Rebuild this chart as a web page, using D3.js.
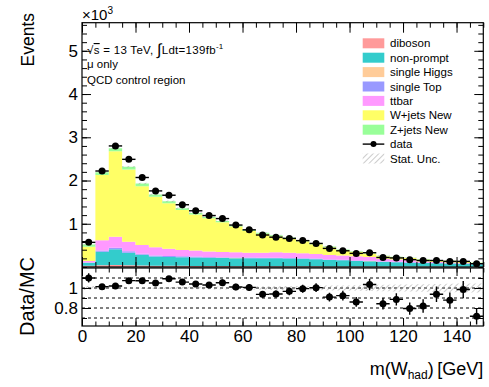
<!DOCTYPE html>
<html>
<head>
<meta charset="utf-8">
<script src="https://cdn.jsdelivr.net/npm/d3@7"></script>
<style>
  html, body { margin: 0; padding: 0; background: #fff; }
  svg { display: block; font-family: "Liberation Sans", Arial, Helvetica, sans-serif; }
</style>
</head>
<body>
<svg id="chart" width="489" height="387"></svg>
<script>
// m(W_had) histogram: 5 GeV bins from 0 to 150 GeV. Yields in units of 10^3 events.
const binEdges = [0,5,10,15,20,25,30,35,40,45,50,55,60,65,70,75,80,85,90,95,100,105,110,115,120,125,130,135,140,145,150];

const dataEvents = [0.57,2.22,2.80,2.49,2.07,1.76,1.66,1.44,1.30,1.19,1.12,0.97,0.86,0.74,0.69,
                    0.66,0.61,0.545,0.43,0.375,0.315,0.33,0.22,0.21,0.17,0.15,0.15,0.13,0.13,0.076];

const diboson    = [0.03,0.04,0.045,0.04,0.035,0.03,0.03,0.028,0.026,0.024,0.022,0.02,0.02,0.02,0.018,
                    0.017,0.016,0.015,0.014,0.013,0.012,0.012,0.011,0.01,0.01,0.009,0.009,0.008,0.008,0.007];
const nonPrompt  = [0.07,0.31,0.365,0.29,0.245,0.21,0.20,0.197,0.194,0.186,0.188,0.185,0.18,0.18,0.182,
                    0.178,0.174,0.165,0.146,0.142,0.128,0.123,0.109,0.10,0.09,0.081,0.076,0.072,0.067,0.058];
const singleHiggs= [0.001,0.002,0.002,0.002,0.002,0.002,0.002,0.002,0.002,0.002,0.002,0.002,0.002,0.002,0.002,
                    0.002,0.002,0.002,0.002,0.002,0.001,0.001,0.001,0.001,0.001,0.001,0.001,0.001,0.001,0.001];
const singleTop  = [0.005,0.03,0.035,0.03,0.025,0.022,0.02,0.02,0.018,0.017,0.016,0.015,0.015,0.014,0.014,
                    0.013,0.012,0.012,0.011,0.01,0.01,0.009,0.008,0.008,0.007,0.007,0.006,0.006,0.005,0.005];
const ttbar      = [0.034,0.238,0.253,0.223,0.203,0.191,0.168,0.148,0.14,0.131,0.117,0.118,0.113,0.114,0.124,
                    0.12,0.116,0.106,0.107,0.098,0.099,0.085,0.061,0.056,0.047,0.032,0.023,0.018,0.014,0.009];
const wJets      = [0.328,1.51,1.975,1.67,1.36,1.171,1.055,0.925,0.835,0.765,0.689,0.595,0.50,0.44,0.374,
                    0.333,0.276,0.227,0.178,0.128,0.104,0.078,0.061,0.053,0.051,0.045,0.038,0.037,0.031,0.021];
const zJets      = [0.05,0.06,0.07,0.065,0.06,0.05,0.045,0.04,0.035,0.03,0.03,0.025,0.025,0.02,0.02,
                    0.02,0.018,0.016,0.015,0.013,0.012,0.011,0.01,0.009,0.008,0.008,0.007,0.006,0.006,0.005];
// relative MC statistical uncertainty per bin
const statUncRel = [0.02,0.008,0.007,0.008,0.009,0.01,0.011,0.012,0.013,0.014,0.015,0.016,0.017,0.018,0.019,
                    0.02,0.021,0.022,0.024,0.026,0.028,0.03,0.032,0.034,0.036,0.038,0.04,0.042,0.044,0.046];

const processNames  = ["diboson","non-prompt","single Higgs","single Top","ttbar","W+jets New","Z+jets New"];
const processColors = ["#ff9a9a","#33cccc","#ffcc99","#9999ff","#ff99ff","#ffff66","#99ff99"];
const processValues = [diboson, nonPrompt, singleHiggs, singleTop, ttbar, wJets, zJets];

const xTicksMajor = [0,20,40,60,80,100,120,140];
const yTicksMain  = [1,2,3,4,5];
const ratioTicks  = [0.8,1.0];
const ratioLines  = [0.7,0.8,0.9,1.0,1.1];

// ---------------------------------------------------------------------------
const svg = d3.select("#chart");
const FONT = "\"Liberation Sans\", Arial, Helvetica, sans-serif";

const left = 82, right = 483.3;
const mainTop = 22.7, mainBottom = 267;
const ratioTop = 268, ratioBottom = 326;

const x = d3.scaleLinear().domain([0,150]).range([left, right]);
const y = d3.scaleLinear().domain([0,5.65]).range([mainBottom, mainTop]);
const yr = d3.scaleLinear().domain([0.62,1.2]).range([ratioBottom, ratioTop]);

const nBins = dataEvents.length;
const rows = d3.range(nBins).map(i => {
  const r = {i};
  processNames.forEach((n,k) => r[n] = processValues[k][i]);
  return r;
});
const stacked = d3.stack().keys(processNames)(rows);
const mcTotal = rows.map(r => d3.sum(processNames, n => r[n]));

// hatch pattern for the statistical uncertainty band
const defs = svg.append("defs");
const pat = defs.append("pattern").attr("id","hatch").attr("patternUnits","userSpaceOnUse")
  .attr("width",4).attr("height",4).attr("patternTransform","rotate(45)");
pat.append("line").attr("x1",0).attr("y1",0).attr("x2",0).attr("y2",4)
  .attr("stroke","#999").attr("stroke-width",1);

defs.append("clipPath").attr("id","clipMain").append("rect")
  .attr("x",left).attr("y",mainTop).attr("width",right-left).attr("height",mainBottom-mainTop);
defs.append("clipPath").attr("id","clipRatio").append("rect")
  .attr("x",left).attr("y",ratioTop).attr("width",right-left).attr("height",ratioBottom-ratioTop);

// step-shaped area across bin edges
function stepPoints(lowFn, highFn) {
  const pts = d3.range(nBins).map(i => ({e: binEdges[i], lo: lowFn(i), hi: highFn(i)}));
  pts.push({e: binEdges[nBins], lo: lowFn(nBins-1), hi: highFn(nBins-1)});
  return pts;
}

// ---- main panel: stacked backgrounds
const gMain = svg.append("g").attr("clip-path","url(#clipMain)");
const areaMain = d3.area().curve(d3.curveStepAfter)
  .x(d => x(d.e)).y0(d => y(d.lo)).y1(d => y(d.hi));

stacked.forEach((layer,k) => {
  gMain.append("path")
    .datum(stepPoints(i => layer[i][0], i => layer[i][1]))
    .attr("d", areaMain)
    .attr("fill", processColors[k]);
});

// stat. uncertainty on the total
gMain.append("path")
  .datum(stepPoints(i => mcTotal[i]*(1-statUncRel[i]), i => mcTotal[i]*(1+statUncRel[i])))
  .attr("d", areaMain)
  .attr("fill","url(#hatch)");

// ---- axes helpers (ROOT-style inward ticks)
function drawAxis(gen, transform, labels, fontSize) {
  const g = svg.append("g").attr("transform", transform).call(gen);
  g.select(".domain").remove();
  g.selectAll(".tick line").attr("stroke","#000").attr("stroke-width",1);
  g.selectAll("text").attr("font-family",FONT).attr("font-size",fontSize).attr("fill","#000");
  if (!labels) g.selectAll("text").remove();
  return g;
}
const xMinor = binEdges;
const yMinorMain = d3.range(0,5.65,0.2);

// main panel ticks
drawAxis(d3.axisBottom(x).tickValues(xTicksMajor).tickSize(-10).tickSizeOuter(0), `translate(0,${mainBottom})`, false);
drawAxis(d3.axisBottom(x).tickValues(xMinor).tickSize(-5).tickSizeOuter(0), `translate(0,${mainBottom})`, false);
drawAxis(d3.axisTop(x).tickValues(xTicksMajor).tickSize(-10).tickSizeOuter(0), `translate(0,${mainTop})`, false);
drawAxis(d3.axisTop(x).tickValues(xMinor).tickSize(-5).tickSizeOuter(0), `translate(0,${mainTop})`, false);
drawAxis(d3.axisLeft(y).tickValues(yTicksMain).tickSize(-9).tickSizeOuter(0).tickPadding(4).tickFormat(d3.format("d")),
  `translate(${left},0)`, true, 17);
drawAxis(d3.axisLeft(y).tickValues(yMinorMain).tickSize(-5).tickSizeOuter(0), `translate(${left},0)`, false);
drawAxis(d3.axisRight(y).tickValues(yTicksMain).tickSize(-9).tickSizeOuter(0), `translate(${right},0)`, false);
drawAxis(d3.axisRight(y).tickValues(yMinorMain).tickSize(-5).tickSizeOuter(0), `translate(${right},0)`, false);

svg.append("rect").attr("x",left).attr("y",mainTop).attr("width",right-left).attr("height",mainBottom-mainTop)
  .attr("fill","none").attr("stroke","#000").attr("stroke-width",1.2);

// ---- data points in the main panel
const gData = svg.append("g");
dataEvents.forEach((d,i) => {
  const cx = x((binEdges[i]+binEdges[i+1])/2);
  const err = Math.sqrt(d*1000)/1000;
  gData.append("line").attr("x1",x(binEdges[i])).attr("x2",x(binEdges[i+1]))
    .attr("y1",y(d)).attr("y2",y(d)).attr("stroke","#000").attr("stroke-width",1.4);
  gData.append("line").attr("x1",cx).attr("x2",cx)
    .attr("y1",y(d-err)).attr("y2",y(d+err)).attr("stroke","#000").attr("stroke-width",1.4);
  gData.append("circle").attr("cx",cx).attr("cy",y(d)).attr("r",3.5).attr("fill","#000");
});

// ---- ratio panel
const gRatio = svg.append("g").attr("clip-path","url(#clipRatio)");
ratioLines.forEach(v => {
  gRatio.append("line").attr("x1",left).attr("x2",right).attr("y1",yr(v)).attr("y2",yr(v))
    .attr("stroke","#000").attr("stroke-width",1).attr("stroke-dasharray","3,3");
});
const areaRatio = d3.area().curve(d3.curveStepAfter)
  .x(d => x(d.e)).y0(d => yr(d.lo)).y1(d => yr(d.hi));
gRatio.append("path")
  .datum(stepPoints(i => 1-statUncRel[i], i => 1+statUncRel[i]))
  .attr("d", areaRatio).attr("fill","url(#hatch)");

dataEvents.forEach((d,i) => {
  const r = d / mcTotal[i];
  const er = Math.sqrt(d*1000)/1000 / mcTotal[i];
  const cx = x((binEdges[i]+binEdges[i+1])/2);
  gRatio.append("line").attr("x1",x(binEdges[i])).attr("x2",x(binEdges[i+1]))
    .attr("y1",yr(r)).attr("y2",yr(r)).attr("stroke","#000").attr("stroke-width",1.4);
  gRatio.append("line").attr("x1",cx).attr("x2",cx)
    .attr("y1",yr(r-er)).attr("y2",yr(r+er)).attr("stroke","#000").attr("stroke-width",1.4);
  gRatio.append("circle").attr("cx",cx).attr("cy",yr(r)).attr("r",3.5).attr("fill","#000");
});

drawAxis(d3.axisBottom(x).tickValues(xTicksMajor).tickSize(-8).tickSizeOuter(0).tickPadding(4),
  `translate(0,${ratioBottom})`, true, 17);
drawAxis(d3.axisBottom(x).tickValues(xMinor).tickSize(-4.5).tickSizeOuter(0), `translate(0,${ratioBottom})`, false);
drawAxis(d3.axisTop(x).tickValues(xTicksMajor).tickSize(-8).tickSizeOuter(0), `translate(0,${ratioTop})`, false);
drawAxis(d3.axisTop(x).tickValues(xMinor).tickSize(-4.5).tickSizeOuter(0), `translate(0,${ratioTop})`, false);
drawAxis(d3.axisLeft(yr).tickValues(ratioTicks).tickSize(-9).tickSizeOuter(0).tickPadding(4)
  .tickFormat(d => d === 1 ? "1" : d3.format(".1f")(d)), `translate(${left},0)`, true, 17);
drawAxis(d3.axisLeft(yr).tickValues([0.7,0.9,1.1]).tickSize(-5).tickSizeOuter(0), `translate(${left},0)`, false);
drawAxis(d3.axisRight(yr).tickValues(ratioTicks).tickSize(-9).tickSizeOuter(0), `translate(${right},0)`, false);
drawAxis(d3.axisRight(yr).tickValues([0.7,0.9,1.1]).tickSize(-5).tickSizeOuter(0), `translate(${right},0)`, false);

svg.append("rect").attr("x",left).attr("y",ratioTop).attr("width",right-left).attr("height",ratioBottom-ratioTop)
  .attr("fill","none").attr("stroke","#000").attr("stroke-width",1.2);

// ---- axis titles
svg.append("text").attr("transform","translate(34,13) rotate(-90)")
  .attr("text-anchor","end").attr("font-family",FONT).attr("font-size",17.5).text("Events");
svg.append("text").attr("transform","translate(34,257) rotate(-90)")
  .attr("text-anchor","end").attr("font-family",FONT).attr("font-size",20).text("Data/MC");

const xt = svg.append("text").attr("x",right).attr("y",375).attr("text-anchor","end")
  .attr("font-family",FONT).attr("font-size",18);
xt.append("tspan").text("m(W");
xt.append("tspan").attr("font-size",12).attr("dy",4).text("had");
xt.append("tspan").attr("dy",-4).text(")\u2009[GeV]");

// ×10^3 multiplier
const mult = svg.append("text").attr("x",82).attr("y",20).attr("font-family",FONT).attr("font-size",15);
mult.append("tspan").text("\u00d710");
mult.append("tspan").attr("font-size",10).attr("dy",-6).text("3");

// ---- ATLAS-style info text
const info = svg.append("g").attr("font-family",FONT).attr("font-size",11.5);
const l1 = info.append("text").attr("x",87).attr("y",54).attr("letter-spacing",0.3);
l1.append("tspan").text("\u221A");
l1.append("tspan").attr("text-decoration","overline").text("s");
l1.append("tspan").text(" = 13 TeV, ");
l1.append("tspan").attr("font-size",16).attr("dy",1).text("\u222B");
l1.append("tspan").attr("dy",-1).text("Ldt=139fb");
l1.append("tspan").attr("font-size",8).attr("dy",-5).text("-1");
info.append("text").attr("x",87).attr("y",68).text("\u03bc only");
info.append("text").attr("x",87).attr("y",84).text("QCD control region");

// ---- legend
const legY0 = 43.3, legDy = 14.4, swX = 362.7, swW = 21.6, swH = 10;
const leg = svg.append("g").attr("font-family",FONT).attr("font-size",11.5);
processNames.forEach((n,k) => {
  const cy = legY0 + k*legDy;
  leg.append("rect").attr("x",swX).attr("y",cy-swH/2).attr("width",swW).attr("height",swH)
    .attr("fill",processColors[k]);
  leg.append("text").attr("x",390).attr("y",cy+4).text(n);
});
{
  const cy = legY0 + 7*legDy;
  leg.append("line").attr("x1",swX).attr("x2",swX+swW).attr("y1",cy).attr("y2",cy)
    .attr("stroke","#000").attr("stroke-width",1.4);
  leg.append("circle").attr("cx",swX+swW/2).attr("cy",cy).attr("r",3).attr("fill","#000");
  leg.append("text").attr("x",390).attr("y",cy+4).text("data");
  const cy2 = legY0 + 8*legDy;
  leg.append("rect").attr("x",swX).attr("y",cy2-swH/2).attr("width",swW).attr("height",swH)
    .attr("fill","url(#hatch)");
  leg.append("text").attr("x",390).attr("y",cy2+4).text("Stat. Unc.");
}
</script>
</body>
</html>
